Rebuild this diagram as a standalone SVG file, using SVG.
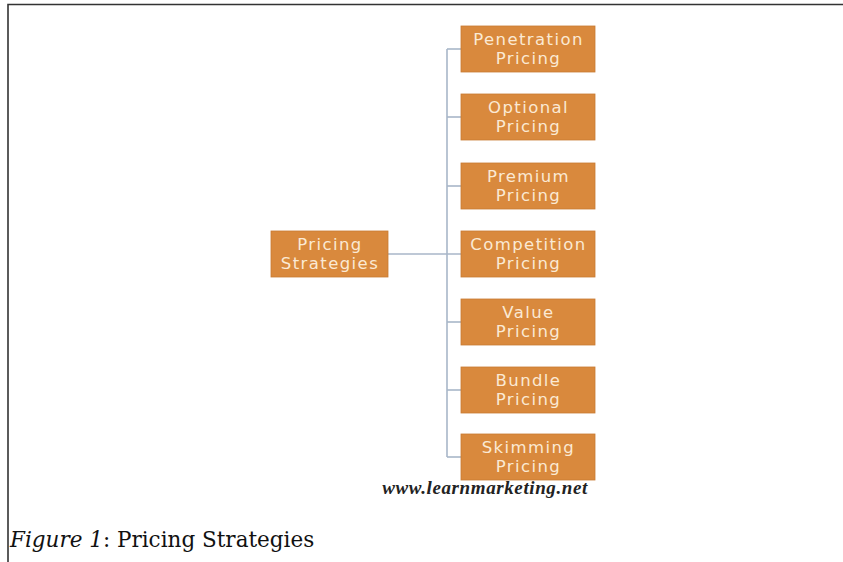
<svg xmlns="http://www.w3.org/2000/svg" width="843" height="562" viewBox="0 0 843 562">
  <style>
    .box { fill: #D9893D; stroke: #C87A33; stroke-width: 0.8; }
    .lbl { font-family: "DejaVu Sans", Verdana, sans-serif; font-size: 16.5px; letter-spacing: 1.4px; fill: #FBE9D4; text-anchor: middle; }
    .wire { stroke: #A8B6C8; stroke-width: 1.6; fill: none; }
    .frame { stroke: #333333; stroke-width: 1.6; fill: none; }
  </style>
  <rect width="843" height="562" fill="#FFFFFF"/>
  <path class="frame" d="M8,562 V4.5 H843"/>

  <g id="connectors">
    <path class="wire" d="M388,254 H461"/>
    <path class="wire" d="M447,49 V457"/>
    <path class="wire" d="M447,49 H461"/>
    <path class="wire" d="M447,117 H461"/>
    <path class="wire" d="M447,186 H461"/>
    <path class="wire" d="M447,322 H461"/>
    <path class="wire" d="M447,390 H461"/>
    <path class="wire" d="M447,457 H461"/>
  </g>

  <g id="pricing-strategies">
    <rect class="box" x="271" y="231" width="117" height="46"/>
    <text class="lbl" x="330" y="249.5">Pricing</text>
    <text class="lbl" x="330" y="268.5">Strategies</text>
  </g>
  <g id="penetration">
    <rect class="box" x="461" y="26" width="134" height="46"/>
    <text class="lbl" x="528.5" y="44.5">Penetration</text>
    <text class="lbl" x="528.5" y="63.5">Pricing</text>
  </g>
  <g id="optional">
    <rect class="box" x="461" y="94" width="134" height="46"/>
    <text class="lbl" x="528.5" y="112.5">Optional</text>
    <text class="lbl" x="528.5" y="131.5">Pricing</text>
  </g>
  <g id="premium">
    <rect class="box" x="461" y="163" width="134" height="46"/>
    <text class="lbl" x="528.5" y="181.5">Premium</text>
    <text class="lbl" x="528.5" y="200.5">Pricing</text>
  </g>
  <g id="competition">
    <rect class="box" x="461" y="231" width="134" height="46"/>
    <text class="lbl" x="528.5" y="249.5">Competition</text>
    <text class="lbl" x="528.5" y="268.5">Pricing</text>
  </g>
  <g id="value">
    <rect class="box" x="461" y="299" width="134" height="46"/>
    <text class="lbl" x="528.5" y="317.5">Value</text>
    <text class="lbl" x="528.5" y="336.5">Pricing</text>
  </g>
  <g id="bundle">
    <rect class="box" x="461" y="367" width="134" height="46"/>
    <text class="lbl" x="528.5" y="385.5">Bundle</text>
    <text class="lbl" x="528.5" y="404.5">Pricing</text>
  </g>
  <g id="skimming">
    <rect class="box" x="461" y="434" width="134" height="46"/>
    <text class="lbl" x="528.5" y="452.5">Skimming</text>
    <text class="lbl" x="528.5" y="471.5">Pricing</text>
  </g>

  <text x="485" y="494" text-anchor="middle" font-family="'Liberation Serif', 'Times New Roman', serif" font-size="19" letter-spacing="0.6" font-style="italic" font-weight="bold" fill="#222222">www.learnmarketing.net</text>

  <text x="10" y="547" font-family="'DejaVu Serif', 'Liberation Serif', serif" font-size="21.5" fill="#111111"><tspan font-style="italic">Figure 1</tspan>: Pricing Strategies</text>
</svg>
